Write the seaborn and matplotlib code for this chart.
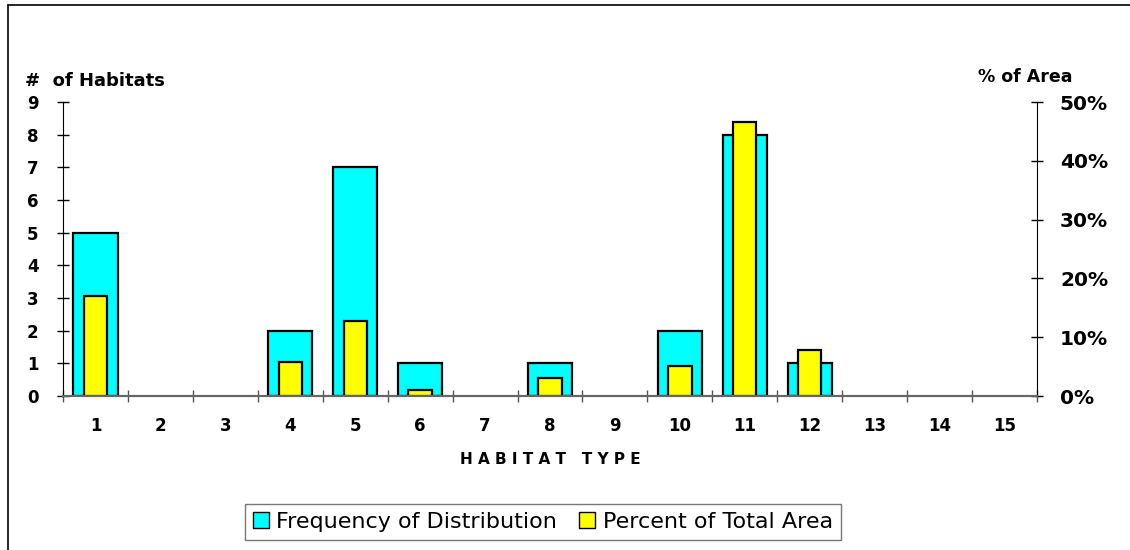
import pandas as pd
import seaborn as sns
import matplotlib.pyplot as plt
from matplotlib.lines import Line2D
from matplotlib.patches import Patch

# ======================================
# Data
# ======================================

habitat_types = list(range(1, 16))

freq_types = [1, 4, 5, 6, 8, 10, 11, 12]
freq_counts = [5, 2, 7, 1, 1, 2, 8, 1]

area_types = [1, 4, 5, 6, 8, 10, 11, 12]
area_pct = [17.0, 5.8, 12.7, 1.1, 3.1, 5.1, 46.6, 7.9]

left_ticks = list(range(0, 10))
right_ticks = [0, 10, 20, 30, 40, 50]

df_freq = pd.DataFrame({"type": freq_types, "count": freq_counts})
df_area = pd.DataFrame({"type": area_types, "pct": area_pct})

# ======================================
# Figure
# ======================================

sns.set_style("white")
plt.rcParams["font.family"] = ["DejaVu Sans"]
plt.rcParams["text.color"] = "black"
plt.rcParams["axes.labelcolor"] = "black"
plt.rcParams["xtick.color"] = "black"
plt.rcParams["ytick.color"] = "black"

fig = plt.figure(figsize=(11.3, 5.5), dpi=100)
ax = fig.add_axes([63 / 1130, 1 - 396 / 550, (1037 - 63) / 1130, (396 - 102) / 550])

sns.barplot(data=df_freq, x="type", y="count", order=habitat_types,
            color="#00FFFF", saturation=1, width=0.68,
            edgecolor="black", linewidth=1.6, ax=ax)

ax2 = ax.twinx()
sns.barplot(data=df_area, x="type", y="pct", order=habitat_types,
            color="#FFFF00", saturation=1, width=0.36,
            edgecolor="black", linewidth=1.6, ax=ax2)

ax.set_xlim(-0.5, 14.5)
ax.set_ylim(0, 9)
ax2.set_ylim(0, 50)

# left axis
ax.set_yticks(left_ticks)
ax.set_yticklabels([str(t) for t in left_ticks], fontsize=12, fontweight="bold")
ax.tick_params(axis="y", direction="inout", length=9, width=1, pad=13, left=True)

# right axis
ax2.set_yticks(right_ticks)
ax2.set_yticklabels([f"{t}%" for t in right_ticks], fontsize=14.5, fontweight="bold")
ax2.tick_params(axis="y", direction="inout", length=9, width=1, pad=12, right=True)

# x axis: tick marks at category boundaries
ax.set_xticks(range(15))
ax.set_xticklabels([str(t) for t in habitat_types], fontsize=12, fontweight="bold")
ax.tick_params(axis="x", length=0, pad=15)
ax.set_xticks([i - 0.5 for i in range(16)], minor=True)
ax.tick_params(axis="x", which="minor", direction="inout", length=9, width=1,
               color="#555555", bottom=True)

ax.set_xlabel("H A B I T A T   T Y P E", fontsize=11, fontweight="bold", labelpad=12)
ax.set_ylabel("")
ax2.set_ylabel("")
ax2.set_xlabel("")

for a in (ax, ax2):
    a.spines["top"].set_visible(False)
    a.spines["left"].set_color("black")
    a.spines["right"].set_color("black")
    a.spines["bottom"].set_color("#666666")
    a.spines["bottom"].set_linewidth(1.5)
    a.grid(False)
ax2.spines["left"].set_visible(False)
ax.spines["right"].set_visible(False)

fig.text(25 / 1130, 1 - 81 / 550, "#  of Habitats", fontsize=13, fontweight="bold",
         va="center", ha="left")
fig.text(978 / 1130, 1 - 77 / 550, "% of Area", fontsize=12.5, fontweight="bold",
         va="center", ha="left")

# legend
handles = [Patch(facecolor="#00FFFF", edgecolor="black", label="Frequency of Distribution"),
           Patch(facecolor="#FFFF00", edgecolor="black", label="Percent of Total Area")]
leg = fig.legend(handles=handles, loc="center", bbox_to_anchor=(543 / 1130, 1 - 522 / 550),
                 ncol=2, fontsize=16, frameon=True, fancybox=False,
                 handlelength=0.7, handleheight=0.7, handletextpad=0.35,
                 columnspacing=1.0, borderpad=0.35, borderaxespad=0)
leg.get_frame().set_edgecolor("#555555")
leg.get_frame().set_linewidth(1)

# chart area border (left and top)
fig.add_artist(Line2D([8 / 1130, 8 / 1130], [0, 1 - 5 / 550], color="black", lw=1.2,
                      transform=fig.transFigure))
fig.add_artist(Line2D([8 / 1130, 1], [1 - 5 / 550, 1 - 5 / 550], color="black", lw=1.2,
                      transform=fig.transFigure))

fig.savefig("out.png", dpi=100)
